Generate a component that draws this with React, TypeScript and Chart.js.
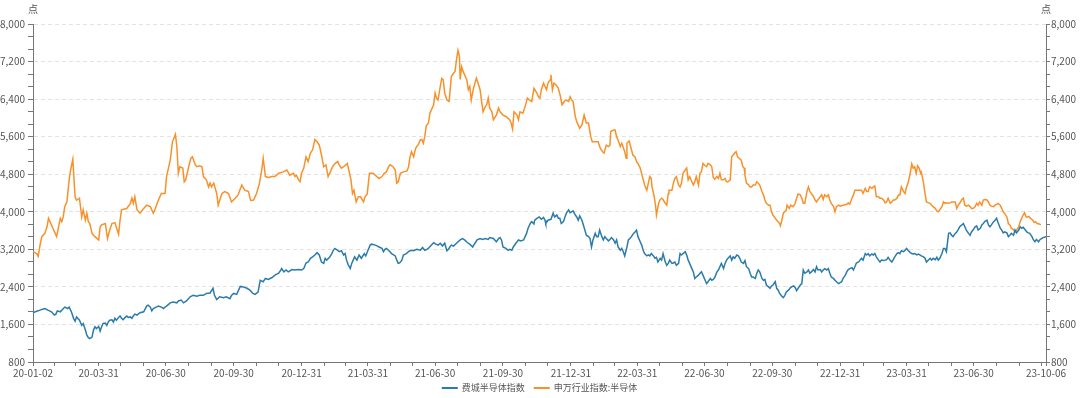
import React, { useEffect, useRef } from 'react';
import { Chart, registerables } from 'chart.js';

Chart.register(...registerables);

// ---------- text ----------
const UNIT = '点';
const SOX_NAME = '费城半导体指数';
const SW_NAME = '申万行业指数:半导体';
const START_DATE = '2020-01-02';

// ---------- x-axis ticks (month ends) and their labels ----------
const TICK_DATES = [
  '2020-01-02', '2020-01-31', '2020-02-29', '2020-03-31', '2020-04-30', '2020-05-31', '2020-06-30', '2020-07-31', '2020-08-31', '2020-09-30', '2020-10-31', '2020-11-30', '2020-12-31',
  '2021-01-31', '2021-02-28', '2021-03-31', '2021-04-30', '2021-05-31', '2021-06-30', '2021-07-31', '2021-08-31', '2021-09-30', '2021-10-31', '2021-11-30', '2021-12-31',
  '2022-01-31', '2022-02-28', '2022-03-31', '2022-04-30', '2022-05-31', '2022-06-30', '2022-07-31', '2022-08-31', '2022-09-30', '2022-10-31', '2022-11-30', '2022-12-31',
  '2023-01-31', '2023-02-28', '2023-03-31', '2023-04-30', '2023-05-31', '2023-06-30', '2023-07-31', '2023-08-31', '2023-09-30', '2023-10-06',
];
const TICK_LABELS = [
  '20-01-02', '', '', '20-03-31', '', '', '20-06-30', '', '', '20-09-30', '', '', '20-12-31',
  '', '', '21-03-31', '', '', '21-06-30', '', '', '21-09-30', '', '', '21-12-31',
  '', '', '22-03-31', '', '', '22-06-30', '', '', '22-09-30', '', '', '22-12-31',
  '', '', '23-03-31', '', '', '23-06-30', '', '', '', '23-10-06',
];
const END_DATE = '2023-10-06';

// ---------- y axis ----------
const Y_MIN = 800;
const Y_MAX = 8000;
const Y_LABEL_STEP = 800;
const Y_MINOR_PER_STEP = 3;

// ---------- 费城半导体指数 (days since 2020-01-02, index points) ----------
const SOX_DAYS = [
  0, 3, 7, 12, 16, 21, 25, 29, 31, 33,
  37, 40, 43, 47, 49, 52, 55, 57, 59, 63,
  66, 68, 71, 73, 75, 77, 80, 82, 84, 86,
  89, 91, 93, 95, 98, 100, 102, 104, 107, 109,
  111, 113, 116, 118, 120, 122, 125, 127, 129, 132,
  134, 136, 138, 141, 145, 150, 154, 156, 159, 161,
  163, 167, 170, 174, 177, 179, 181, 186, 190, 195,
  197, 201, 204, 208, 213, 217, 222, 226, 231, 235,
  240, 244, 246, 249, 253, 258, 262, 267, 269, 272,
  276, 281, 285, 290, 294, 298, 301, 305, 308, 312,
  315, 319, 324, 328, 333, 336,
  337, 340, 343, 346, 351, 355, 360, 364, 367, 370,
  373, 376, 379, 382, 385, 388, 391, 394, 396, 398,
  402, 405, 407, 409, 413, 415, 418, 421, 423, 425,
  427, 430, 432, 434, 436, 439, 442, 445, 449, 451,
  454, 457, 459, 464, 467, 469, 473, 475, 477, 479,
  482, 486, 491, 493, 495, 497, 500, 502, 506, 509,
  512, 516, 520, 525, 528, 531, 534, 537, 540, 543,
  546, 549, 552, 555, 558, 561, 563, 565, 567, 570,
  574, 579, 582, 585, 589, 592, 596, 599, 602, 606,
  609, 613, 617, 619, 624, 628, 631, 633, 635, 637,
  641, 644, 646, 649, 651, 655, 658, 661, 665, 667,
  669, 671, 674, 676, 679,
  680, 683, 686, 689, 692, 694, 695, 698, 702, 705,
  707, 710, 712, 714, 716, 719, 721, 723, 726, 728,
  730, 732, 735, 737, 739, 741, 744, 746, 748, 750,
  753, 755, 757, 759, 762, 764, 766, 768, 771, 773,
  775, 777, 780, 782, 784, 787, 789, 791, 793, 796,
  798, 800, 802, 805, 807, 809, 811, 814, 816, 818,
  820, 823, 825, 827, 829, 832, 834, 836, 838, 841,
  843, 845, 847, 850, 852, 854, 857, 859, 861, 863,
  866, 868, 870, 872, 875, 877, 879, 881, 884, 886,
  888, 890, 893, 895, 897, 899, 902, 904, 906, 908,
  911, 913, 915, 918, 920, 922, 924, 927, 929, 931,
  933, 936, 938, 940, 942, 945, 947, 949, 951, 954,
  956, 958, 960, 963, 965, 967, 970, 972, 974, 976,
  979, 981, 983, 985, 988, 990, 992, 994, 997, 999,
  1001, 1003, 1006, 1008, 1010, 1012, 1015,
  1017, 1019, 1021, 1024, 1026, 1028, 1031, 1033, 1035, 1037,
  1040, 1042, 1044, 1046, 1049, 1051, 1053, 1055, 1058, 1060,
  1062, 1064, 1067, 1069, 1071, 1073, 1076, 1078, 1080, 1082,
  1085, 1087, 1089, 1092, 1094, 1096, 1098, 1101, 1103, 1105,
  1107, 1110, 1112, 1114, 1116, 1119, 1121, 1123, 1125, 1128,
  1130, 1132, 1134, 1137, 1139, 1141, 1143, 1146, 1148, 1150,
  1153, 1155, 1157, 1159, 1162, 1164, 1166, 1168, 1171, 1173,
  1175, 1177, 1180, 1182, 1184, 1186, 1189, 1191, 1193, 1195,
  1198, 1200, 1202, 1204, 1207, 1209, 1211, 1214, 1216, 1218,
  1220, 1223, 1225, 1227, 1229, 1232, 1234, 1236, 1238, 1241,
  1243, 1245, 1247, 1250, 1252, 1254, 1256, 1259, 1261, 1263,
  1265, 1268, 1270, 1272, 1274, 1277, 1279, 1281, 1284, 1286,
  1288, 1290, 1293, 1295, 1297, 1299, 1302, 1304, 1306, 1308,
  1311, 1313, 1315, 1317, 1320, 1322, 1324, 1326, 1329, 1331,
  1333, 1336, 1338, 1340, 1342, 1345, 1347, 1349, 1351, 1354,
  1356, 1358, 1360, 1363, 1365, 1367, 1369, 1373,
];
const SOX_VALUES = [
  1850, 1870, 1890, 1920, 1940, 1900, 1870, 1800, 1820, 1890,
  1870, 1920, 1970, 1940, 1970, 1870, 1730, 1670, 1760, 1690,
  1580, 1620, 1480, 1370, 1320, 1300, 1330, 1480, 1550, 1510,
  1560, 1460, 1550, 1620, 1630, 1580, 1650, 1690, 1700, 1650,
  1730, 1690, 1750, 1780, 1730, 1700, 1750, 1780, 1750, 1760,
  1730, 1780, 1820, 1800, 1850, 1870, 1990, 2010, 1970, 1890,
  1940, 1970, 1990, 1970, 1940, 1970, 1990, 2060, 2080, 2060,
  2100, 2120, 2060, 2100, 2190, 2220, 2200, 2220, 2220, 2260,
  2270, 2370, 2220, 2130, 2190, 2170, 2190, 2150, 2220, 2260,
  2240, 2410, 2400, 2370, 2330, 2260, 2240, 2290, 2540, 2510,
  2580, 2560, 2600, 2650, 2690, 2760,
  2790, 2720, 2760, 2720, 2770, 2760, 2770, 2760, 2790, 2910,
  2930, 3010, 3040, 3080, 3130, 3080, 2930, 2900, 3010, 2970,
  3030, 3110, 3180, 3220, 3180, 3150, 3170, 3080, 3110, 2970,
  2880, 2790, 2900, 2970, 3040, 2970, 3080, 3010, 3110, 3060,
  3180, 3290, 3310, 3290, 3270, 3250, 3220, 3150, 3200, 3220,
  3180, 3110, 3060, 2970, 2900, 2910, 2970, 3080, 3110, 3150,
  3180, 3170, 3200, 3180, 3240, 3180, 3200, 3240, 3290, 3340,
  3310, 3290, 3330, 3270, 3330, 3170, 3200, 3250, 3290, 3270,
  3330, 3400, 3430, 3400, 3340, 3310, 3250, 3330, 3400, 3430,
  3410, 3430, 3410, 3450, 3430, 3360, 3430, 3450, 3400, 3250,
  3220, 3180, 3200, 3180, 3250, 3340, 3400, 3380, 3400, 3470,
  3540, 3650, 3750, 3790, 3740,
  3820, 3860, 3890, 3840, 3880, 3820, 3750, 3820, 3840, 3970,
  3890, 3930, 3860, 3860, 3750, 3790, 3890, 3970, 4040, 3980,
  4000, 4020, 3930, 3890, 3820, 3910, 3820, 3720, 3610, 3500,
  3470, 3430, 3250, 3400, 3540, 3470, 3470, 3610, 3470, 3400,
  3470, 3430, 3380, 3410, 3450, 3400, 3330, 3400, 3250, 3180,
  3220, 3150, 3060, 3250, 3400, 3430, 3470, 3540, 3570, 3610,
  3470, 3360, 3290, 3180, 3110, 3060, 3080, 3060, 3110, 3060,
  3010, 3030, 2930, 3010, 2970, 3110, 2930, 2860, 2900, 2970,
  2900, 2910, 2930, 2860, 2900, 3110, 3080, 3110, 3150, 3080,
  2970, 2900, 2790, 2720, 2580, 2610, 2650, 2690, 2720, 2650,
  2540, 2470, 2510, 2580, 2540, 2560, 2600, 2720, 2760, 2830,
  2900, 2790, 2900, 2970, 3010, 3060, 2970, 3040, 3010, 3080,
  3060, 3010, 2930, 2900, 2960, 2830, 2790, 2690, 2610, 2610,
  2580, 2690, 2760, 2720, 2580, 2540, 2560, 2440, 2400, 2370,
  2420, 2440, 2510, 2370, 2330, 2260, 2200,
  2170, 2220, 2290, 2330, 2370, 2400, 2420, 2390, 2320, 2370,
  2440, 2470, 2760, 2690, 2720, 2760, 2690, 2720, 2770, 2720,
  2830, 2760, 2770, 2720, 2760, 2790, 2760, 2790, 2690, 2610,
  2580, 2540, 2510, 2470, 2490, 2510, 2580, 2650, 2720, 2770,
  2790, 2810, 2760, 2830, 2910, 2930, 2970, 3010, 2970, 3110,
  3080, 3110, 3060, 3100, 3080, 3110, 3040, 2970, 2930, 2970,
  2960, 2970, 2980, 3030, 2960, 2930, 2980, 3040, 3110, 3130,
  3110, 3170, 3150, 3180, 3220, 3180, 3130, 3110, 3100, 3110,
  3080, 3100, 3080, 3060, 3040, 3010, 2930, 2980, 3010, 2970,
  3010, 2980, 3030, 2970, 3010, 3110, 3220, 3220, 3150, 3540,
  3550, 3500, 3470, 3540, 3570, 3620, 3680, 3720, 3750, 3680,
  3610, 3540, 3500, 3570, 3610, 3680, 3700, 3610, 3650, 3720,
  3750, 3790, 3820, 3720, 3680, 3720, 3790, 3820, 3860, 3770,
  3650, 3610, 3550, 3570, 3550, 3470, 3500, 3540, 3500, 3610,
  3550, 3610, 3680, 3650, 3670, 3610, 3570, 3550, 3540, 3470,
  3400, 3360, 3410, 3360, 3410, 3430, 3450, 3470,
];

// ---------- 申万行业指数:半导体 (days since 2020-01-02, index points) ----------
const SW_DAYS = [
  0, 5, 7, 10, 12, 16, 19, 21, 32, 37,
  39, 41, 43, 46, 49, 51, 54, 57, 59, 63,
  66, 68, 71, 73, 75, 77, 80, 84, 89, 91,
  93, 98, 101, 104, 107, 111, 116, 118, 120, 127,
  132, 134, 136, 138, 141, 145, 150, 154, 159, 163,
  165, 170, 174, 179, 181, 186, 189, 193, 195, 197,
  199, 203, 205, 207, 211, 214, 216, 220, 222, 226,
  229, 231, 235, 238, 240, 242, 245, 249, 251, 256,
  260, 265, 269, 274, 278, 283, 287, 292, 295, 299,
  303, 307, 310, 312, 315, 319, 324, 328, 333,
  339, 344, 348, 353, 355, 357, 360, 362, 364, 367,
  370, 373, 376, 379, 382, 385, 388, 391, 394, 397,
  400, 403, 406, 409, 413, 415, 418, 421, 424, 426,
  429, 431, 433, 435, 438, 441, 444, 448, 450, 453,
  456, 461, 466, 469, 473, 476, 479, 482, 484, 488,
  491, 493, 495, 498, 502, 507, 509, 511, 513, 516,
  518, 520, 522, 525, 527, 529, 531, 533, 536, 538,
  540, 543, 545, 547, 549, 552, 554, 556, 558, 561,
  564, 567, 570, 572, 574, 576, 578, 579, 581, 583,
  586, 588, 590, 592, 594, 597, 599, 601, 604, 606,
  608, 610, 613, 615, 617, 619, 622, 624, 628, 631,
  633, 637, 641, 646, 648, 650, 652, 656, 658, 660,
  664, 667, 670, 673, 676, 679,
  683, 685, 687, 689, 692, 694, 696, 698, 701, 702,
  704, 706, 709, 712, 715, 717, 720, 722, 726, 728,
  730, 732, 735, 737, 741, 744, 747, 750, 753, 754,
  756, 758, 762, 766, 769, 772, 774, 777, 780, 782,
  783, 787, 789, 791, 793, 796, 798, 800, 802, 804,
  805, 808, 810, 813, 816, 818, 820, 823, 826, 829,
  832, 834, 836, 838, 839, 842, 844, 845, 848, 850,
  852, 854, 857, 859, 861, 862, 866, 868, 870, 872,
  875, 877, 879, 881, 884, 886, 888, 890, 893, 895,
  897, 899, 902, 904, 906, 908, 911, 913, 915, 918,
  920, 922, 924, 927, 929, 931, 933, 936, 938, 940,
  942, 945, 947, 949, 951, 953, 955, 957, 960, 962,
  964, 965, 967, 970, 972, 974, 976, 979, 981, 983,
  985, 988, 990, 992, 994, 997, 999, 1001, 1003, 1008,
  1012, 1013,
  1015, 1017, 1021, 1022, 1025, 1027, 1030, 1033, 1035, 1037,
  1040, 1042, 1044, 1046, 1049, 1051, 1053, 1055, 1058, 1060,
  1062, 1064, 1067, 1069, 1071, 1073, 1076, 1078, 1080, 1082,
  1085, 1087, 1089, 1092, 1094, 1098, 1103, 1105, 1107, 1110,
  1112, 1114, 1119, 1123, 1125, 1128, 1130, 1132, 1134, 1137,
  1139, 1141, 1143, 1146, 1148, 1150, 1153, 1155, 1157, 1159,
  1162, 1164, 1166, 1168, 1171, 1173, 1175, 1177, 1180, 1182,
  1184, 1186, 1189, 1191, 1193, 1195, 1197, 1199, 1201, 1203,
  1204, 1207, 1209, 1211, 1214, 1216, 1218, 1220, 1223, 1225,
  1227, 1229, 1232, 1234, 1236, 1238, 1241, 1243, 1245, 1247,
  1250, 1252, 1254, 1256, 1259, 1261, 1263, 1265, 1268, 1270,
  1272, 1274, 1277, 1279, 1281, 1283, 1286, 1288, 1290, 1293,
  1295, 1297, 1299, 1302, 1304, 1306, 1308, 1311, 1313, 1315,
  1317, 1320, 1322, 1324, 1326, 1329, 1331, 1333, 1336, 1338,
  1340, 1342, 1344, 1346, 1348, 1350, 1352, 1355, 1357, 1359,
  1361, 1364, 1366,
];
const SW_VALUES = [
  3150, 3110, 3050, 3330, 3470, 3540, 3680, 3860, 3470, 3860,
  3790, 3890, 4110, 4210, 4680, 4890, 5120, 4320, 4250, 4290,
  3890, 4040, 3820, 3970, 3790, 3750, 3540, 3470, 3400, 3680,
  3720, 3750, 3430, 3610, 3750, 3770, 3520, 3820, 4040, 4070,
  4180, 4290, 4180, 4320, 4040, 3970, 4070, 4140, 4110, 3970,
  4040, 4250, 4390, 4390, 4750, 5100, 5490, 5650, 5390, 4820,
  4960, 4930, 4640, 4680, 4960, 5140, 5170, 5000, 4960, 4980,
  4960, 4750, 4680, 4530, 4610, 4530, 4610, 4390, 4140, 4390,
  4430, 4390, 4210, 4290, 4360, 4570, 4460, 4430, 4240, 4250,
  4390, 4610, 4890, 5140, 4750, 4730, 4750, 4750, 4820,
  4850, 4890, 4780, 4820, 4750, 4780, 4680, 4640, 4820, 4930,
  5170, 5070, 5250, 5320, 5540, 5490, 5420, 5210, 4960, 5000,
  4750, 4850, 4960, 5020, 5070, 5000, 4930, 4960, 5000, 5030,
  4820, 4680, 4390, 4460, 4210, 4320, 4320, 4210, 4320, 4380,
  4820, 4820, 4750, 4710, 4750, 4820, 4850, 4960, 5000, 4960,
  4890, 4610, 4640, 4820, 4850, 4870, 4960, 5170, 5280, 5170,
  5320, 5390, 5420, 5530, 5540, 5460, 5600, 5830, 5890, 6100,
  6170, 6280, 6530, 6420, 6380, 6670, 6840, 6810, 6530, 6380,
  6350, 6880, 6950, 6990, 7240, 7440, 7310, 6820, 7090, 6990,
  6880, 6810, 6600, 6670, 6380, 6630, 6740, 6850, 6700, 6600,
  6350, 6130, 6240, 6280, 6420, 6210, 6130, 5960, 6060, 6210,
  6130, 6060, 6030, 5960, 5890, 5760, 6130, 6060, 5960, 6130,
  6100, 6240, 6420, 6380, 6350, 6630,
  6530, 6450, 6420, 6600, 6740, 6670, 6600, 6740, 6810, 6920,
  6600, 6740, 6700, 6630, 6450, 6280, 6350, 6380, 6350, 6450,
  6380, 6350, 6030, 5920, 5780, 5850, 6060, 5890, 5890, 5780,
  5600, 5490, 5490, 5490, 5350, 5280, 5250, 5420, 5390, 5420,
  5710, 5740, 5740, 5600, 5530, 5390, 5460, 5370, 5280, 5140,
  5460, 5510, 5390, 5210, 5170, 5070, 5030, 4930, 4750, 4570,
  4460, 4610, 4750, 4710, 4530, 4320, 4110, 3930, 4180, 4260,
  4290, 4260, 4180, 4140, 4390, 4460, 4460, 4610, 4710, 4750,
  4570, 4530, 4610, 4820, 4890, 4930, 4680, 4750, 4640, 4570,
  4640, 4750, 4570, 4820, 4850, 5030, 4980, 4960, 5030, 5000,
  4960, 4730, 4690, 4750, 4710, 4820, 4680, 4680, 4710, 4640,
  4640, 4680, 5170, 5210, 5250, 5280, 5170, 5140, 5100, 4960,
  4930, 4780, 4610, 4570, 4530, 4530, 4570, 4570, 4640, 4610,
  4570, 4430, 4360, 4250, 4180, 4140, 4140, 4000, 3930, 3820,
  3750, 3700,
  3820, 3970, 4040, 4140, 4070, 4140, 4110, 4180, 4290, 4380,
  4360, 4290, 4180, 4180, 4430, 4530, 4430, 4390, 4320, 4250,
  4210, 4260, 4320, 4360, 4260, 4360, 4320, 4360, 4250, 4180,
  4110, 4000, 4110, 4140, 4120, 4140, 4160, 4190, 4160, 4290,
  4360, 4460, 4460, 4460, 4390, 4500, 4430, 4430, 4530, 4500,
  4530, 4550, 4320, 4320, 4290, 4290, 4250, 4190, 4210, 4290,
  4180, 4210, 4250, 4250, 4290, 4360, 4360, 4530, 4430, 4390,
  4530, 4610, 4820, 5020, 4930, 4960, 4820, 4980, 4930, 4820,
  4850, 4610, 4390, 4210, 4190, 4180, 4140, 4110, 4070, 4020,
  4000, 4040, 4110, 4210, 4180, 4190, 4180, 4190, 4210, 4210,
  4210, 4070, 4140, 4180, 4260, 4290, 4140, 4120, 4140, 4110,
  4070, 4070, 4110, 4180, 4140, 4210, 4140, 4250, 4260, 4250,
  4210, 4140, 4120, 4110, 4140, 4160, 4180, 4140, 4070, 4000,
  3960, 3890, 3750, 3720, 3650, 3620, 3570, 3610, 3680, 3790,
  3860, 3930, 3980, 3890, 3890, 3900, 3860, 3820, 3770, 3790,
  3750, 3740, 3720,
];

// ---------- style ----------
const FONT = '"Noto Sans CJK SC", "Noto Sans", sans-serif';
const TEXT_COLOR = '#555555';
const AXIS_COLOR = '#777777';
const GRID_COLOR = '#e2e2e2';
const SOX_COLOR = '#2b7bab';
const SW_COLOR = '#f9912a';

function dayOf(date: string): number {
  const [y, m, d] = date.split('-').map(Number);
  const [y0, m0, d0] = START_DATE.split('-').map(Number);
  return Math.round((Date.UTC(y, m - 1, d) - Date.UTC(y0, m0 - 1, d0)) / 86400000);
}

const isMajor = (v: number) => Math.abs(v / Y_LABEL_STEP - Math.round(v / Y_LABEL_STEP)) < 1e-6;

function yTicks() {
  const out: { value: number }[] = [];
  const n = ((Y_MAX - Y_MIN) / Y_LABEL_STEP) * Y_MINOR_PER_STEP;
  for (let i = 0; i <= n; i++) out.push({ value: Y_MIN + (i * Y_LABEL_STEP) / Y_MINOR_PER_STEP });
  return out;
}

const overlayPlugin = {
  id: 'overlay',
  afterDraw(chart: any) {
    const { ctx, chartArea } = chart;
    const yl = chart.scales.y;
    const yr = chart.scales.y2;
    ctx.save();
    ctx.fillStyle = TEXT_COLOR;
    ctx.textBaseline = 'middle';
    ctx.textAlign = 'center';
    ctx.font = `10px ${FONT}`;
    ctx.fillText(UNIT, yl.right, 9);
    ctx.fillText(UNIT, yr.left, 9);

    // legend
    ctx.font = `9px ${FONT}`;
    const swatch = 16;
    const gap = 4;
    const itemGap = 9;
    const items = chart.data.datasets.map((ds: any) => ({
      text: ds.label,
      color: ds.borderColor,
      w: ctx.measureText(ds.label).width,
    }));
    const total =
      items.reduce((s: number, it: any) => s + swatch + gap + it.w, 0) + itemGap * (items.length - 1);
    let x = (chartArea.left + chartArea.right) / 2 - total / 2;
    const y = 388;
    ctx.textAlign = 'left';
    for (const it of items) {
      ctx.strokeStyle = it.color;
      ctx.lineWidth = 2;
      ctx.beginPath();
      ctx.moveTo(x, y);
      ctx.lineTo(x + swatch, y);
      ctx.stroke();
      x += swatch + gap;
      ctx.fillStyle = TEXT_COLOR;
      ctx.fillText(it.text, x, y);
      x += it.w + itemGap;
    }
    ctx.restore();
  },
};

export default function App() {
  const canvasRef = useRef<HTMLCanvasElement | null>(null);

  useEffect(() => {
    const canvas = canvasRef.current;
    if (!canvas) return;
    const tickFont = { family: FONT, size: 10 };
    const yAxisBase = (position: 'left' | 'right', width: number, onArea: boolean) => ({
      type: 'linear',
      position,
      min: Y_MIN,
      max: Y_MAX,
      afterBuildTicks: (axis: any) => {
        axis.ticks = yTicks();
      },
      afterFit: (axis: any) => {
        axis.width = width;
      },
      ticks: {
        autoSkip: false,
        padding: position === 'left' ? 3 : 1,
        color: TEXT_COLOR,
        font: tickFont,
        callback: (v: number) => (isMajor(v) ? Math.round(v).toLocaleString('en-US') : ''),
      },
      grid: {
        drawOnChartArea: onArea,
        color: (c: any) => (c.tick && isMajor(c.tick.value) ? GRID_COLOR : 'rgba(0,0,0,0)'),
        lineWidth: 1,
        tickLength: position === 'left' ? 5 : 4,
        tickColor: AXIS_COLOR,
        tickWidth: 1,
      },
      border: { display: true, color: AXIS_COLOR, width: 1, dash: [4, 3] },
    });

    const chart = new Chart(canvas, {
      type: 'line',
      data: {
        datasets: [
          {
            label: SOX_NAME,
            data: SOX_DAYS.map((d, i) => ({ x: d, y: SOX_VALUES[i] })),
            borderColor: SOX_COLOR,
            backgroundColor: SOX_COLOR,
            borderWidth: 1.5,
            pointRadius: 0,
            tension: 0,
            yAxisID: 'y',
          },
          {
            label: SW_NAME,
            data: SW_DAYS.map((d, i) => ({ x: d, y: SW_VALUES[i] })),
            borderColor: SW_COLOR,
            backgroundColor: SW_COLOR,
            borderWidth: 1.5,
            pointRadius: 0,
            tension: 0,
            yAxisID: 'y',
          },
        ],
      },
      options: {
        responsive: false,
        animation: false,
        events: [],
        layout: { padding: { top: 24, bottom: 20, left: 0, right: 0 } },
        plugins: { legend: { display: false }, tooltip: { enabled: false } },
        scales: {
          x: {
            type: 'linear',
            min: 0,
            max: dayOf(END_DATE),
            afterBuildTicks: (axis: any) => {
              axis.ticks = TICK_DATES.map((d) => ({ value: dayOf(d) }));
            },
            afterFit: (axis: any) => {
              axis.height = 16;
            },
            ticks: {
              autoSkip: false,
              maxRotation: 0,
              minRotation: 0,
              padding: 1,
              color: TEXT_COLOR,
              font: tickFont,
              callback: (_v: number, i: number) => TICK_LABELS[i] ?? '',
            },
            grid: {
              drawOnChartArea: false,
              tickLength: 4,
              tickColor: AXIS_COLOR,
              tickWidth: 1,
            },
            border: { display: true, color: AXIS_COLOR, width: 1 },
          },
          y: yAxisBase('left', 33, true),
          y2: yAxisBase('right', 34, false),
        },
      } as any,
      plugins: [overlayPlugin],
    } as any);
    return () => chart.destroy();
  }, []);

  return (
    <div
      style={{
        position: 'fixed',
        left: 0,
        top: 0,
        width: 1080,
        height: 398,
        background: '#ffffff',
      }}
    >
      <canvas ref={canvasRef} width={1080} height={398} style={{ display: 'block' }} />
    </div>
  );
}
